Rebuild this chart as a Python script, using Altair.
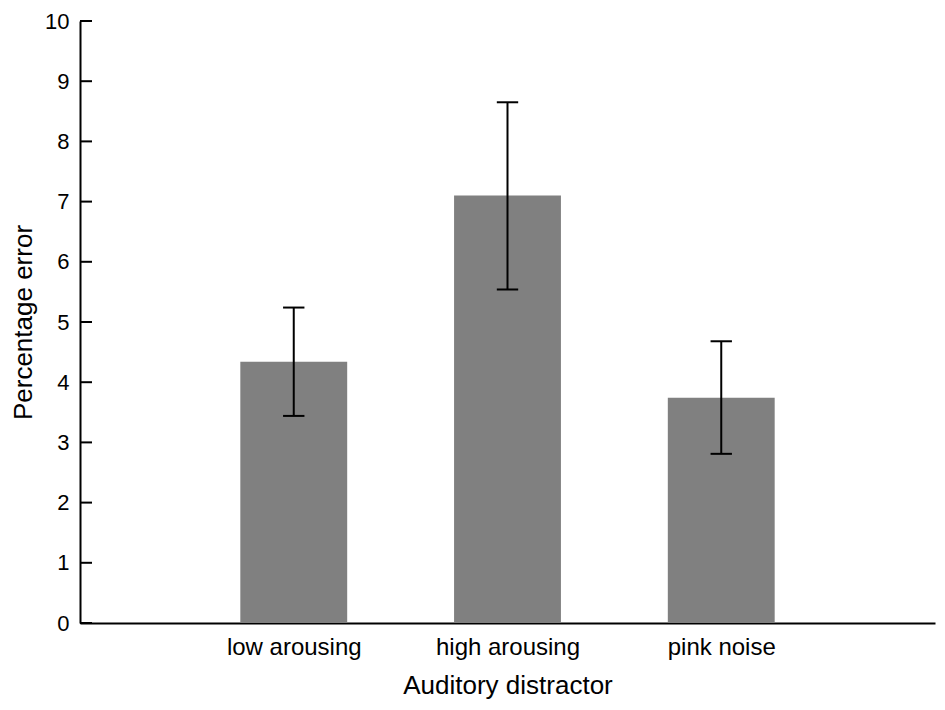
import altair as alt
import pandas as pd

categories = ["low arousing", "high arousing", "pink noise"]
positions = [1, 2, 3]
means = [4.34, 7.10, 3.74]
lower = [3.44, 5.54, 2.81]
upper = [5.24, 8.65, 4.68]
y_ticks = [0, 1, 2, 3, 4, 5, 6, 7, 8, 9, 10]

df = pd.DataFrame({"cat": categories, "pos": positions, "mean": means, "lo": lower, "hi": upper})
df["left"] = df["pos"] - 0.25
df["right"] = df["pos"] + 0.25
df["capL"] = df["pos"] - 0.05
df["capR"] = df["pos"] + 0.05

label_expr = " : ".join(
    [f"datum.value == {p} ? '{c}'" for p, c in zip(positions, categories)]
) + " : ''"

FONT = "Liberation Sans"
xs = alt.Scale(domain=[0, 4], nice=False, zero=False)
ys = alt.Scale(domain=[0, 10], nice=False, zero=True)

xaxis = alt.Axis(values=positions, labelExpr=label_expr, ticks=False, grid=False,
                 title="Auditory distractor", labelPadding=12, titlePadding=13,
                 labelFontSize=24, titleFontSize=26, titleFontWeight="normal",
                 labelFont=FONT, titleFont=FONT, labelColor="black", titleColor="black",
                 domainColor="black", domainWidth=2)
yaxis = alt.Axis(values=y_ticks, ticks=False, grid=False, title="Percentage error",
                 labelPadding=11, titlePadding=8, labelFontSize=22, titleFontSize=26,
                 titleFontWeight="normal",
                 labelFont=FONT, titleFont=FONT, labelColor="black", titleColor="black",
                 domainColor="black", domainWidth=2)

base = alt.Chart(df)
bars = base.mark_bar(color="#808080").encode(
    x=alt.X("left:Q", scale=xs, axis=xaxis),
    x2="right:Q",
    y=alt.Y("mean:Q", scale=ys, axis=yaxis),
    y2=alt.datum(0),
)
stems = base.mark_rule(color="black", strokeWidth=2).encode(
    x=alt.X("pos:Q", scale=xs, axis=xaxis),
    y=alt.Y("lo:Q", scale=ys, axis=yaxis),
    y2="hi:Q",
)
caps_hi = base.mark_rule(color="black", strokeWidth=2).encode(
    x=alt.X("capL:Q", scale=xs, axis=xaxis), x2="capR:Q",
    y=alt.Y("hi:Q", scale=ys, axis=yaxis),
)
caps_lo = base.mark_rule(color="black", strokeWidth=2).encode(
    x=alt.X("capL:Q", scale=xs, axis=xaxis), x2="capR:Q",
    y=alt.Y("lo:Q", scale=ys, axis=yaxis),
)
ticks = alt.Chart(pd.DataFrame({"v": y_ticks})).mark_rule(color="black", strokeWidth=2).encode(
    y=alt.Y("v:Q", scale=ys, axis=yaxis),
    x=alt.value(0), x2=alt.value(12),
)

chart = alt.layer(bars, stems, caps_hi, caps_lo, ticks).properties(
    width=855, height=602,
    autosize=alt.AutoSizeParams(type="none"),
    padding={"left": 72, "top": 13, "right": 2, "bottom": 79},
    view=alt.ViewBackground(stroke="transparent", strokeWidth=0),
).configure_view(stroke="transparent", strokeWidth=0).configure_axis(
    titleFontWeight="normal",
).configure(background="white")

chart.save("out.html", embed_options={"renderer": "svg", "actions": False})
